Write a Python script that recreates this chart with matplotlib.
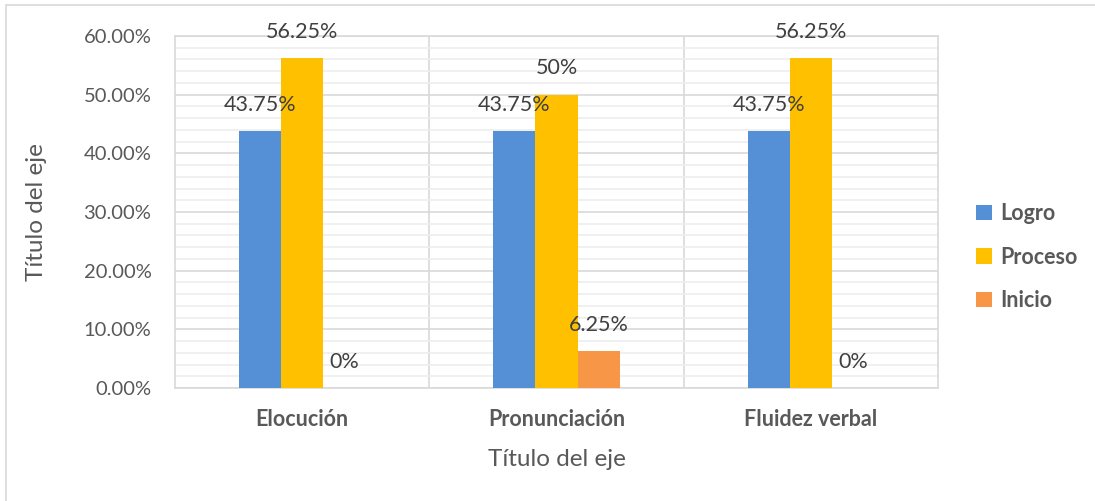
import numpy as np
import matplotlib
matplotlib.use("Agg")
import matplotlib.pyplot as plt
from matplotlib.patches import Rectangle
from matplotlib.ticker import MultipleLocator, FuncFormatter

plt.rcParams['font.family'] = ['Lato', 'DejaVu Sans']

categories = ["Elocución", "Pronunciación", "Fluidez verbal"]
series = ["Logro", "Proceso", "Inicio"]
logro = [43.75, 43.75, 43.75]
proceso = [56.25, 50.0, 56.25]
inicio = [0.0, 6.25, 0.0]
label_text = [
    ["43.75%", "43.75%", "43.75%"],
    ["56.25%", "50%", "56.25%"],
    ["0%", "6.25%", "0%"],
]
colors = ["#5590D6", "#FFC000", "#F79646"]
text_color = "#595959"

fig = plt.figure(figsize=(10.95, 5.01), dpi=100)
ax = fig.add_axes([175 / 1095, 1 - 388 / 501, (938 - 175) / 1095, (388 - 36) / 501])

# outer chart border (left and top visible only)
fig.patches.append(Rectangle((6 / 1095, -0.1), 1.2, 1 - 5 / 501 + 0.1,
                             transform=fig.transFigure, fill=False,
                             edgecolor="#d9d9d9", linewidth=1.2))

x = np.arange(len(categories))
w = 42 / 254
for i, (vals, c) in enumerate(zip([logro, proceso, inicio], colors)):
    pos = x + (i - 1) * w
    ax.bar(pos, vals, width=w, color=c, label=series[i], zorder=3)
    for xp, v, t in zip(pos, vals, label_text[i]):
        ax.annotate(t, (xp, v), xytext=(0, 19), textcoords="offset points",
                    ha="center", va="center", fontsize=15.5, color="#404040",
                    zorder=4)

ax.set_xlim(-0.5, 2.5)
ax.set_ylim(0, 60)
ax.yaxis.set_major_locator(MultipleLocator(10))
ax.yaxis.set_minor_locator(MultipleLocator(2))
ax.yaxis.set_major_formatter(FuncFormatter(lambda v, p: f"{v:.2f}%"))
ax.grid(axis="y", which="major", color="#d9d9d9", linewidth=1.2, zorder=1)
ax.grid(axis="y", which="minor", color="#eeeeee", linewidth=1.2, zorder=0)
for b in [0.5, 1.5]:
    ax.axvline(b, color="#d9d9d9", linewidth=1.2, zorder=1)
for s in ax.spines.values():
    s.set_color("#d9d9d9")
    s.set_linewidth(1.2)

ax.set_xticks(x)
ax.set_xticklabels(categories, fontsize=15.5, fontweight="bold", color=text_color)
ax.tick_params(axis="both", which="both", length=0)
ax.tick_params(axis="x", pad=15)
ax.tick_params(axis="y", labelsize=14.5, labelcolor=text_color, pad=17)

ax.set_xlabel("Título del eje", fontsize=17.5, color=text_color, labelpad=14)
ax.set_ylabel("Título del eje", fontsize=17.5, color=text_color, labelpad=26)

leg = ax.legend(loc="center left", bbox_to_anchor=(1.025, 0.372), frameon=False,
                handlelength=0.72, handleheight=0.72, handletextpad=0.4,
                labelspacing=1.05, prop={"size": 15.5, "weight": "bold"})
for t in leg.get_texts():
    t.set_color(text_color)

fig.savefig("out.png", dpi=100)
